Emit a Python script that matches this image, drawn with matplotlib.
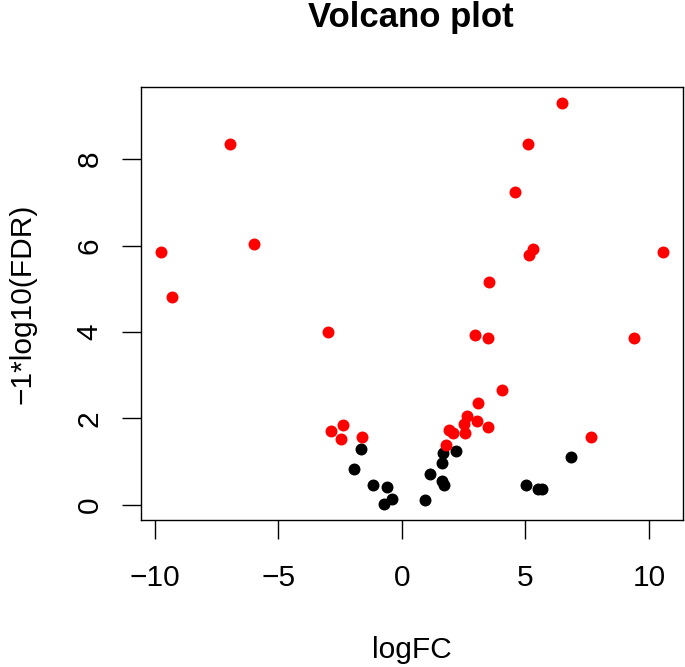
import numpy as np
import matplotlib
matplotlib.use("Agg")
from matplotlib import pyplot as plt

plt.rcParams['font.family'] = ['Liberation Sans', 'DejaVu Sans']

# significant genes (red)
sig_logfc = [-6.97, -9.75, -6.00, -9.32, -2.98, -2.86, -2.40, -2.47, -1.62,
             6.47, 5.12, 4.58, 5.29, 5.15, 10.57, 3.52, 2.95, 3.47, 9.40,
             4.06, 3.10, 2.64, 3.03, 2.51, 1.91, 2.08, 2.54, 3.49, 1.77, 7.67]
sig_fdr = [8.36, 5.86, 6.03, 4.81, 3.99, 1.72, 1.85, 1.53, 1.56,
           9.30, 8.36, 7.25, 5.93, 5.79, 5.86, 5.16, 3.93, 3.86, 3.86,
           2.65, 2.35, 2.05, 1.95, 1.86, 1.73, 1.67, 1.66, 1.80, 1.39, 1.56]

# not significant (black)
ns_logfc = [-1.65, -1.93, -1.17, -0.62, -0.40, -0.72,
            1.65, 2.18, 1.61, 1.12, 1.63, 1.69, 0.92, 6.84, 5.03, 5.53, 5.69]
ns_fdr = [1.29, 0.83, 0.46, 0.42, 0.14, 0.02,
          1.19, 1.25, 0.96, 0.72, 0.55, 0.46, 0.11, 1.10, 0.47, 0.36, 0.36]

xticks = [-10, -5, 0, 5, 10]
xticklabels = ['\u221210', '\u22125', '0', '5', '10']
yticks = [0, 2, 4, 6, 8]

W, H = 685, 667
fig = plt.figure(figsize=(W / 100, H / 100), dpi=100)
ax = fig.add_axes([141 / W, 1 - 520 / H, (683 - 141) / W, (520 - 87) / H])

ax.scatter(ns_logfc, ns_fdr, s=74, c='black', linewidths=0)
ax.scatter(sig_logfc, sig_fdr, s=74, c='#ff0000', linewidths=0)

# R style 4% padding
allx = np.array(sig_logfc + ns_logfc)
ally = np.array(sig_fdr + ns_fdr)
dx = (allx.max() - allx.min()) * 0.04
dy = (ally.max() - ally.min()) * 0.04
ax.set_xlim(allx.min() - dx, allx.max() + dx)
ax.set_ylim(ally.min() - dy, ally.max() + dy)

ax.set_xticks(xticks)
ax.set_xticklabels(xticklabels)
ax.set_yticks(yticks)
ax.tick_params(length=14, width=1.0, labelsize=21.5)
ax.tick_params(axis='x', pad=18)
ax.tick_params(axis='y', pad=13)
plt.setp(ax.get_yticklabels(), rotation=90, va='center')
for s in ax.spines.values():
    s.set_linewidth(1.0)

ax.set_xlabel('logFC', fontsize=21.5, va='baseline')
ax.xaxis.set_label_coords(0.5, (520 - 658) / 433)
ax.set_ylabel('\u22121*log10(FDR)', fontsize=21.5, va='center')
ax.yaxis.set_label_coords((23 - 141) / 542, 0.5)

fig.text(411 / W, 1 - 27 / H, 'Volcano plot', fontsize=25,
         fontweight='bold', ha='center', va='baseline')

fig.savefig('out.png', dpi=100)
